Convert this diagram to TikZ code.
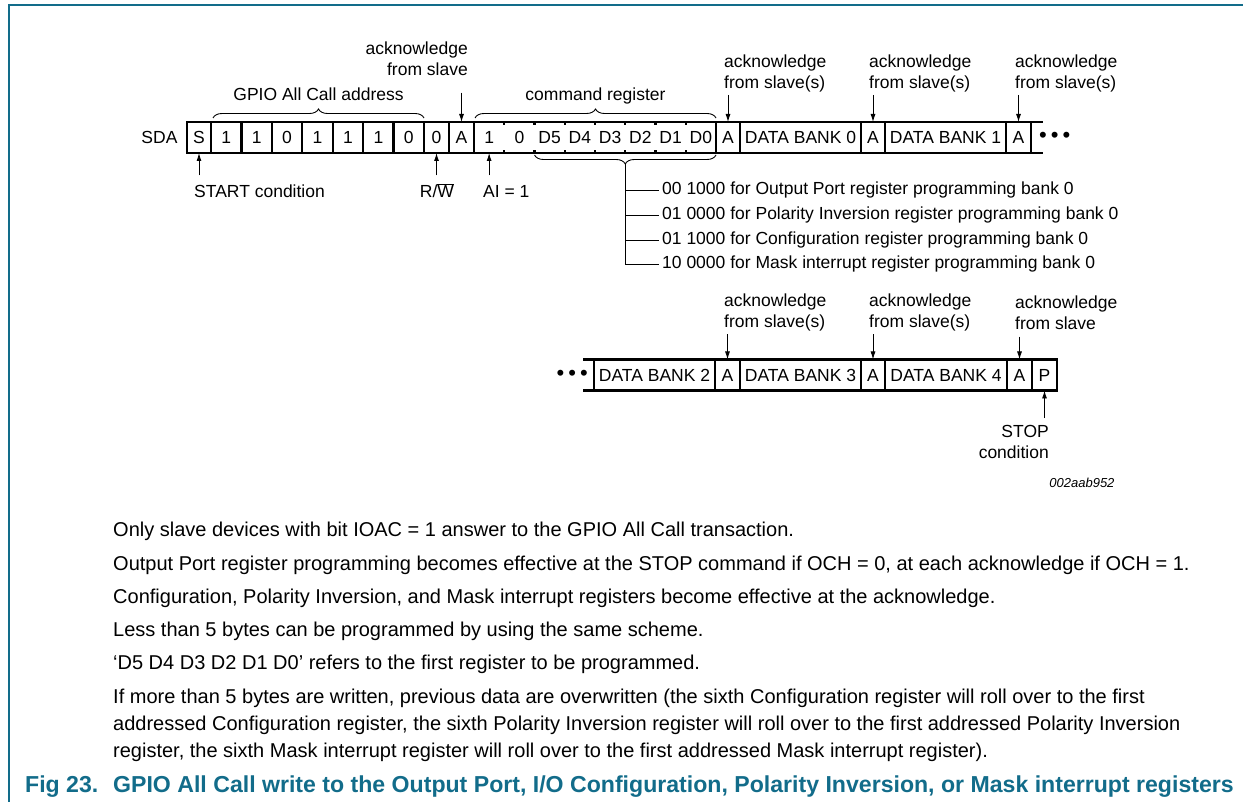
\documentclass[tikz,border=0pt]{standalone}
\usepackage{fontspec}
\setmainfont{Liberation Sans}
\usetikzlibrary{positioning}
\usetikzlibrary{calc}
\usetikzlibrary{arrows.meta}
\usetikzlibrary{decorations.pathreplacing}
\definecolor{figteal}{RGB}{18,108,138}

\begin{document}
\begin{tikzpicture}[x=1pt,y=1pt,font=\fontsize{17.5}{21}\selectfont]
\tikzstyle{cell} = [draw, line width=2.4pt, minimum height=31pt, inner sep=0pt, outer sep=0pt]
\tikzstyle{bit} = [minimum height=31pt, minimum width=30.25pt, inner sep=0pt, outer sep=0pt]
\tikzstyle{row} = [line width=2.4pt]
\tikzstyle{txt} = [inner sep=3pt, text height=13pt, text depth=4pt]
\tikzstyle{ack} = [inner sep=3pt]
\tikzstyle{line} = [draw, line width=0.9pt, ->, >={Latex[length=8pt,width=5pt]}]
\tikzstyle{thin} = [draw, line width=0.9pt]
\tikzstyle{brace} = [draw, line width=0.9pt, decorate, decoration={brace, amplitude=9pt}]
\tikzstyle{note} = [anchor=west, inner sep=3pt, font=\fontsize{20}{27}\selectfont]

\useasboundingbox (0,0) rectangle (1243,-802);
\draw[figteal, line width=1.5pt] (9,-802) -- (9,-5) -- (1243,-5);

% first row
\node[anchor=east] (sda) at (181,-137.5) {SDA};
\node[cell, minimum width=24pt, anchor=west] (s) at (187,-137.5) {S};
\node[cell, minimum width=30.43pt, right=0pt of s] (a1) {1};
\node[cell, minimum width=30.43pt, right=0pt of a1] (a2) {1};
\node[cell, minimum width=30.43pt, right=0pt of a2] (a3) {0};
\node[cell, minimum width=30.43pt, right=0pt of a3] (a4) {1};
\node[cell, minimum width=30.43pt, right=0pt of a4] (a5) {1};
\node[cell, minimum width=30.43pt, right=0pt of a5] (a6) {1};
\node[cell, minimum width=30.43pt, right=0pt of a6] (a7) {0};
\node[cell, minimum width=25pt, right=0pt of a7] (rw) {0};
\node[cell, minimum width=25pt, right=0pt of rw] (ack0) {A};
\node[bit, right=0pt of ack0] (c1) {1};
\node[bit, right=0pt of c1] (c2) {0};
\node[bit, right=0pt of c2] (c3) {D5};
\node[bit, right=0pt of c3] (c4) {D4};
\node[bit, right=0pt of c4] (c5) {D3};
\node[bit, right=0pt of c5] (c6) {D2};
\node[bit, right=0pt of c6] (c7) {D1};
\node[bit, right=0pt of c7] (c8) {D0};
\draw[row] (c1.north west) rectangle (c8.south east);
\foreach \i in {1,...,7} {
  \draw[row] (c\i.north east) -- ++(0,-3);
  \draw[row] (c\i.south east) -- ++(0,3);
}
\node[cell, minimum width=24pt, right=0pt of c8] (ack1) {A};
\node[cell, minimum width=121pt, right=0pt of ack1] (bank0) {DATA BANK 0};
\node[cell, minimum width=24pt, right=0pt of bank0] (ack2) {A};
\node[cell, minimum width=121pt, right=0pt of ack2] (bank1) {DATA BANK 1};
\node[cell, minimum width=25pt, right=0pt of bank1] (ack3) {A};
\draw[row] (ack3.north east) -- ++(12,0);
\draw[row] (ack3.south east) -- ++(12,0);
\node[right=8pt of ack3, inner sep=0pt, font=\fontsize{22}{22}\selectfont] (more1) {\textbullet\hspace{4pt}\textbullet\hspace{4pt}\textbullet};

% braces
\draw[brace] ([shift={(2,4)}]a1.north west) -- ([yshift=4pt]a7.north east)
  node[txt, midway, above=10pt] (addr) {GPIO All Call address};
\draw[brace] ([shift={(1,4)}]c1.north west) -- ([yshift=4pt]c8.north east)
  node[txt, midway, above=10pt] (cmd) {command register};
\draw[brace] ([yshift=-2pt]c8.south east) -- ([yshift=-2pt]c3.south west);
\coordinate (btip) at ($(c3.south west)!.5!(c8.south east)+(0,-11)$);

% acknowledges, first row
\node[ack, anchor=east, align=right] (fs0) at (471,-58.5) {acknowledge\\from slave};
\node[ack, anchor=west, align=left] (fs1) at (721,-73) {acknowledge\\from slave(s)};
\node[ack, anchor=west, align=left] (fs2) at (866,-73) {acknowledge\\from slave(s)};
\node[ack, anchor=west, align=left] (fs3) at (1012,-73) {acknowledge\\from slave(s)};
\draw[line, shorten <=14pt] (ack0.north |- fs0.south) -- (ack0.north);
\draw[line] (ack1.north |- fs1.south) -- (ack1.north);
\draw[line] (ack2.north |- fs2.south) -- (ack2.north);
\draw[line] (ack3.north |- fs3.south) -- (ack3.north);

% below first row
\node[txt, anchor=west] (startc) at (191,-193) {START condition};
\node[txt] (rwc) at (437,-193) {R/$\overline{\mbox{W}}$};
\node[txt, anchor=west] (aic) at (480,-193) {AI = 1};
\draw[line, shorten <=6pt] (s.south |- startc.north) -- (s.south);
\draw[line, shorten <=6pt] (rw.south |- rwc.north) -- (rw.south);
\draw[line, shorten <=6pt] (c1.south |- aic.north) -- (c1.south);

% command values
\node[txt, anchor=west] (reg1) at (659,-190) {00 1000 for Output Port register programming bank 0};
\node[txt, anchor=west] (reg2) at (659,-215) {01 0000 for Polarity Inversion register programming bank 0};
\node[txt, anchor=west] (reg3) at (659,-240) {01 1000 for Configuration register programming bank 0};
\node[txt, anchor=west] (reg4) at (659,-264) {10 0000 for Mask interrupt register programming bank 0};
\draw[thin] (btip) |- (reg4.west);
\draw[thin] (btip |- reg1.west) -- (reg1.west);
\draw[thin] (btip |- reg2.west) -- (reg2.west);
\draw[thin] (btip |- reg3.west) -- (reg3.west);

% second row
\node[cell, minimum width=121pt, anchor=west] (bank2) at (594,-375) {DATA BANK 2};
\node[cell, minimum width=25pt, right=0pt of bank2] (ack4) {A};
\node[cell, minimum width=121pt, right=0pt of ack4] (bank3) {DATA BANK 3};
\node[cell, minimum width=24pt, right=0pt of bank3] (ack5) {A};
\node[cell, minimum width=122pt, right=0pt of ack5] (bank4) {DATA BANK 4};
\node[cell, minimum width=25pt, right=0pt of bank4] (ack6) {A};
\node[cell, minimum width=25pt, right=0pt of ack6] (stop) {P};
\draw[row] (bank2.north west) -- ++(-11,0);
\draw[row] (bank2.south west) -- ++(-11,0);
\node[left=6pt of bank2, inner sep=0pt, font=\fontsize{22}{22}\selectfont] (more2) {\textbullet\hspace{4pt}\textbullet\hspace{4pt}\textbullet};

\node[ack, anchor=west, align=left] (fs4) at (721,-312.5) {acknowledge\\from slave(s)};
\node[ack, anchor=west, align=left] (fs5) at (866,-312.5) {acknowledge\\from slave(s)};
\node[ack, anchor=west, align=left] (fs6) at (1012,-312.5) {acknowledge\\from slave};
\draw[line] (ack4.north |- fs4.south) -- (ack4.north);
\draw[line] (ack5.north |- fs5.south) -- (ack5.north);
\draw[line, shorten <=4pt] (ack6.north |- fs6.south) -- (ack6.north);

\node[ack, anchor=east, align=right] (stopc) at (1052,-442) {STOP\\condition};
\draw[line, shorten <=4pt] (stop.south |- stopc.north) -- (stop.south);

\node[anchor=east, font=\fontsize{13}{15}\selectfont\itshape] (figid) at (1118,-483) {002aab952};

% notes
\node[note] (n1) at (110,-531) {Only slave devices with bit IOAC = 1 answer to the GPIO All Call transaction.};
\node[note] (n2) at (110,-565) {Output Port register programming becomes effective at the STOP command if OCH = 0, at each acknowledge if OCH = 1.};
\node[note] (n3) at (110,-598) {Configuration, Polarity Inversion, and Mask interrupt registers become effective at the acknowledge.};
\node[note] (n4) at (110,-631) {Less than 5 bytes can be programmed by using the same scheme.};
\node[note] (n5) at (110,-664) {‘D5 D4 D3 D2 D1 D0’ refers to the first register to be programmed.};
\node[note, anchor=north west, align=left] (n6) at (110,-686) {If more than 5 bytes are written, previous data are overwritten (the sixth Configuration register will roll over to the first\\addressed Configuration register, the sixth Polarity Inversion register will roll over to the first addressed Polarity Inversion\\register, the sixth Mask interrupt register will roll over to the first addressed Mask interrupt register).};

\node[anchor=west, inner sep=0pt, text=figteal, font=\fontsize{23.1}{27}\selectfont\bfseries] (cap) at (25,-787) {\makebox[88pt][l]{Fig 23.}GPIO All Call write to the Output Port, I/O Configuration, Polarity Inversion, or Mask interrupt registers};
\end{tikzpicture}
\end{document}
